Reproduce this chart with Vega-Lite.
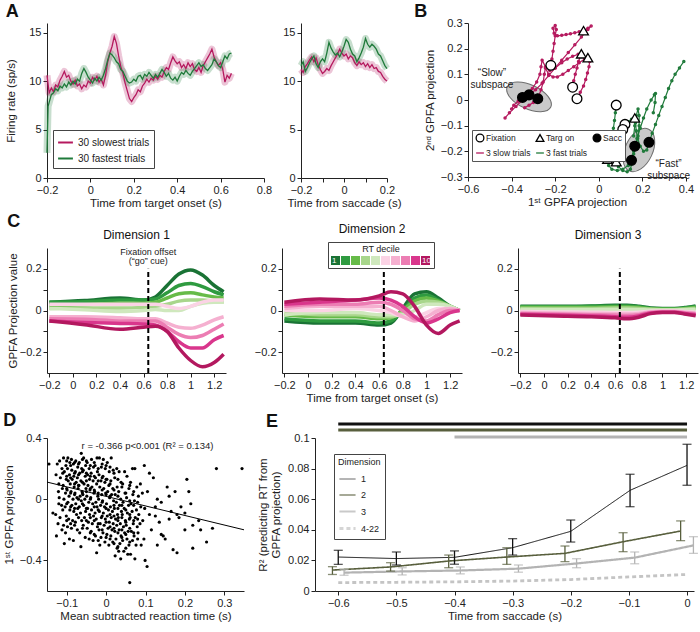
{
"$schema":"https://vega.github.io/schema/vega-lite/v6.json",
"padding":{"left":3,"top":3,"right":2,"bottom":2},
"background":"white",
"config":{
 "font":"Liberation Sans",
 "view":{"stroke":null},
 "axis":{"grid":false,"domainColor":"#222","tickColor":"#222","labelColor":"#222","titleColor":"#222","labelFontSize":11,"titleFontSize":11.5,"titleFontWeight":"normal","tickSize":4,"labelPadding":2,"labelFlush":false,"labelOverlap":false,"labelFont":"Liberation Sans","titleFont":"Liberation Sans"},
 "axisX":{"titlePadding":2},
 "axisY":{"titlePadding":5},
 "title":{"fontSize":18,"fontWeight":"bold","anchor":"start","frame":"bounds","offset":2,"color":"#111","font":"Liberation Sans"},
 "legend":{"labelFont":"Liberation Sans","titleFont":"Liberation Sans","labelColor":"#222","titleColor":"#222"},
 "text":{"font":"Liberation Sans"}
},
"datasets":{
"a1":[
{"t":-0.2,"r":10.6,"g":"slow"},{"t":-0.19,"r":8.8,"g":"slow"},{"t":-0.18,"r":9.3,"g":"slow"},{"t":-0.17,"r":8.9,"g":"slow"},{"t":-0.16,"r":9.6,"g":"slow"},{"t":-0.15,"r":9.4,"g":"slow"},{"t":-0.14,"r":10.1,"g":"slow"},{"t":-0.13,"r":10.5,"g":"slow"},{"t":-0.12,"r":11.0,"g":"slow"},{"t":-0.11,"r":10.4,"g":"slow"},{"t":-0.1,"r":10.6,"g":"slow"},{"t":-0.09,"r":10.0,"g":"slow"},{"t":-0.08,"r":9.7,"g":"slow"},{"t":-0.07,"r":10.1,"g":"slow"},{"t":-0.06,"r":9.5,"g":"slow"},{"t":-0.05,"r":9.7,"g":"slow"},{"t":-0.04,"r":9.2,"g":"slow"},{"t":-0.03,"r":9.6,"g":"slow"},{"t":-0.02,"r":9.4,"g":"slow"},{"t":-0.01,"r":10.0,"g":"slow"},{"t":0,"r":9.8,"g":"slow"},{"t":0.01,"r":10.4,"g":"slow"},{"t":0.02,"r":10.1,"g":"slow"},{"t":0.03,"r":10.5,"g":"slow"},{"t":0.04,"r":9.9,"g":"slow"},{"t":0.05,"r":10.2,"g":"slow"},{"t":0.06,"r":9.6,"g":"slow"},{"t":0.07,"r":10.6,"g":"slow"},{"t":0.08,"r":12.0,"g":"slow"},{"t":0.09,"r":12.9,"g":"slow"},{"t":0.1,"r":13.6,"g":"slow"},{"t":0.11,"r":14.6,"g":"slow"},{"t":0.12,"r":13.9,"g":"slow"},{"t":0.13,"r":12.6,"g":"slow"},{"t":0.14,"r":11.5,"g":"slow"},{"t":0.15,"r":10.8,"g":"slow"},{"t":0.16,"r":9.8,"g":"slow"},{"t":0.17,"r":9.0,"g":"slow"},{"t":0.18,"r":8.2,"g":"slow"},{"t":0.19,"r":7.9,"g":"slow"},{"t":0.2,"r":8.3,"g":"slow"},{"t":0.21,"r":8.6,"g":"slow"},{"t":0.22,"r":9.1,"g":"slow"},{"t":0.23,"r":8.9,"g":"slow"},{"t":0.24,"r":9.5,"g":"slow"},{"t":0.25,"r":9.8,"g":"slow"},{"t":0.26,"r":10.2,"g":"slow"},{"t":0.27,"r":9.9,"g":"slow"},{"t":0.28,"r":10.3,"g":"slow"},{"t":0.29,"r":10.1,"g":"slow"},{"t":0.3,"r":10.5,"g":"slow"},{"t":0.31,"r":10.2,"g":"slow"},{"t":0.32,"r":10.6,"g":"slow"},{"t":0.33,"r":10.4,"g":"slow"},{"t":0.34,"r":11.0,"g":"slow"},{"t":0.35,"r":11.4,"g":"slow"},{"t":0.36,"r":11.2,"g":"slow"},{"t":0.37,"r":11.9,"g":"slow"},{"t":0.38,"r":12.5,"g":"slow"},{"t":0.39,"r":12.1,"g":"slow"},{"t":0.4,"r":11.8,"g":"slow"},{"t":0.41,"r":12.0,"g":"slow"},{"t":0.42,"r":11.4,"g":"slow"},{"t":0.43,"r":11.7,"g":"slow"},{"t":0.44,"r":11.3,"g":"slow"},{"t":0.45,"r":11.9,"g":"slow"},{"t":0.46,"r":11.5,"g":"slow"},{"t":0.47,"r":11.8,"g":"slow"},{"t":0.48,"r":11.2,"g":"slow"},{"t":0.49,"r":11.0,"g":"slow"},{"t":0.5,"r":11.4,"g":"slow"},{"t":0.51,"r":10.9,"g":"slow"},{"t":0.52,"r":11.6,"g":"slow"},{"t":0.53,"r":12.0,"g":"slow"},{"t":0.54,"r":12.4,"g":"slow"},{"t":0.55,"r":12.8,"g":"slow"},{"t":0.56,"r":13.3,"g":"slow"},{"t":0.57,"r":12.5,"g":"slow"},{"t":0.58,"r":12.0,"g":"slow"},{"t":0.59,"r":11.6,"g":"slow"},{"t":0.6,"r":11.9,"g":"slow"},{"t":0.61,"r":11.2,"g":"slow"},{"t":0.62,"r":9.9,"g":"slow"},{"t":0.63,"r":10.6,"g":"slow"},{"t":0.64,"r":10.3,"g":"slow"},{"t":0.65,"r":10.8,"g":"slow"},
{"t":-0.2,"r":2.6,"g":"fast"},{"t":-0.195,"r":7.4,"g":"fast"},{"t":-0.19,"r":7.8,"g":"fast"},{"t":-0.18,"r":8.6,"g":"fast"},{"t":-0.17,"r":8.8,"g":"fast"},{"t":-0.16,"r":9.2,"g":"fast"},{"t":-0.15,"r":9.0,"g":"fast"},{"t":-0.14,"r":9.5,"g":"fast"},{"t":-0.13,"r":9.3,"g":"fast"},{"t":-0.12,"r":9.7,"g":"fast"},{"t":-0.11,"r":9.4,"g":"fast"},{"t":-0.1,"r":9.9,"g":"fast"},{"t":-0.09,"r":9.6,"g":"fast"},{"t":-0.08,"r":10.0,"g":"fast"},{"t":-0.07,"r":9.7,"g":"fast"},{"t":-0.06,"r":10.2,"g":"fast"},{"t":-0.05,"r":10.0,"g":"fast"},{"t":-0.04,"r":10.8,"g":"fast"},{"t":-0.03,"r":11.3,"g":"fast"},{"t":-0.02,"r":10.9,"g":"fast"},{"t":-0.01,"r":10.4,"g":"fast"},{"t":0,"r":10.1,"g":"fast"},{"t":0.01,"r":9.8,"g":"fast"},{"t":0.02,"r":10.3,"g":"fast"},{"t":0.03,"r":10.0,"g":"fast"},{"t":0.04,"r":10.4,"g":"fast"},{"t":0.05,"r":10.1,"g":"fast"},{"t":0.06,"r":10.6,"g":"fast"},{"t":0.07,"r":11.3,"g":"fast"},{"t":0.08,"r":12.2,"g":"fast"},{"t":0.09,"r":12.9,"g":"fast"},{"t":0.1,"r":12.7,"g":"fast"},{"t":0.11,"r":12.4,"g":"fast"},{"t":0.12,"r":12.0,"g":"fast"},{"t":0.13,"r":11.8,"g":"fast"},{"t":0.14,"r":11.2,"g":"fast"},{"t":0.15,"r":11.0,"g":"fast"},{"t":0.16,"r":10.5,"g":"fast"},{"t":0.17,"r":10.0,"g":"fast"},{"t":0.18,"r":9.8,"g":"fast"},{"t":0.19,"r":9.9,"g":"fast"},{"t":0.2,"r":10.2,"g":"fast"},{"t":0.21,"r":10.0,"g":"fast"},{"t":0.22,"r":10.5,"g":"fast"},{"t":0.23,"r":10.6,"g":"fast"},{"t":0.24,"r":10.2,"g":"fast"},{"t":0.25,"r":10.7,"g":"fast"},{"t":0.26,"r":10.5,"g":"fast"},{"t":0.27,"r":10.9,"g":"fast"},{"t":0.28,"r":10.6,"g":"fast"},{"t":0.29,"r":10.3,"g":"fast"},{"t":0.3,"r":10.7,"g":"fast"},{"t":0.31,"r":10.4,"g":"fast"},{"t":0.32,"r":10.8,"g":"fast"},{"t":0.33,"r":11.2,"g":"fast"},{"t":0.34,"r":10.9,"g":"fast"},{"t":0.35,"r":10.5,"g":"fast"},{"t":0.36,"r":10.8,"g":"fast"},{"t":0.37,"r":10.3,"g":"fast"},{"t":0.38,"r":10.1,"g":"fast"},{"t":0.39,"r":10.4,"g":"fast"},{"t":0.4,"r":10.0,"g":"fast"},{"t":0.41,"r":10.5,"g":"fast"},{"t":0.42,"r":10.9,"g":"fast"},{"t":0.43,"r":10.7,"g":"fast"},{"t":0.44,"r":11.1,"g":"fast"},{"t":0.45,"r":10.8,"g":"fast"},{"t":0.46,"r":10.6,"g":"fast"},{"t":0.47,"r":11.0,"g":"fast"},{"t":0.48,"r":11.3,"g":"fast"},{"t":0.49,"r":11.6,"g":"fast"},{"t":0.5,"r":11.9,"g":"fast"},{"t":0.51,"r":11.5,"g":"fast"},{"t":0.52,"r":11.7,"g":"fast"},{"t":0.53,"r":11.3,"g":"fast"},{"t":0.54,"r":11.1,"g":"fast"},{"t":0.55,"r":11.4,"g":"fast"},{"t":0.56,"r":11.7,"g":"fast"},{"t":0.57,"r":12.3,"g":"fast"},{"t":0.58,"r":12.0,"g":"fast"},{"t":0.59,"r":11.6,"g":"fast"},{"t":0.6,"r":11.4,"g":"fast"},{"t":0.61,"r":12.0,"g":"fast"},{"t":0.62,"r":12.6,"g":"fast"},{"t":0.63,"r":12.3,"g":"fast"},{"t":0.64,"r":12.8,"g":"fast"},{"t":0.65,"r":12.9,"g":"fast"}
],
"a2":[
{"t":-0.2,"r":11.2,"g":"slow"},{"t":-0.19,"r":10.9,"g":"slow"},{"t":-0.18,"r":11.5,"g":"slow"},{"t":-0.17,"r":11.8,"g":"slow"},{"t":-0.16,"r":12.2,"g":"slow"},{"t":-0.15,"r":12.5,"g":"slow"},{"t":-0.14,"r":12.0,"g":"slow"},{"t":-0.13,"r":12.4,"g":"slow"},{"t":-0.12,"r":11.7,"g":"slow"},{"t":-0.11,"r":11.2,"g":"slow"},{"t":-0.1,"r":10.8,"g":"slow"},{"t":-0.09,"r":11.0,"g":"slow"},{"t":-0.08,"r":11.3,"g":"slow"},{"t":-0.07,"r":11.1,"g":"slow"},{"t":-0.06,"r":11.6,"g":"slow"},{"t":-0.05,"r":12.0,"g":"slow"},{"t":-0.04,"r":12.4,"g":"slow"},{"t":-0.03,"r":12.8,"g":"slow"},{"t":-0.02,"r":13.3,"g":"slow"},{"t":-0.01,"r":12.9,"g":"slow"},{"t":0,"r":12.6,"g":"slow"},{"t":0.01,"r":12.8,"g":"slow"},{"t":0.02,"r":12.3,"g":"slow"},{"t":0.03,"r":12.6,"g":"slow"},{"t":0.04,"r":12.4,"g":"slow"},{"t":0.05,"r":11.9,"g":"slow"},{"t":0.06,"r":11.6,"g":"slow"},{"t":0.07,"r":12.0,"g":"slow"},{"t":0.08,"r":11.7,"g":"slow"},{"t":0.09,"r":11.9,"g":"slow"},{"t":0.1,"r":11.5,"g":"slow"},{"t":0.11,"r":11.8,"g":"slow"},{"t":0.12,"r":11.4,"g":"slow"},{"t":0.13,"r":11.7,"g":"slow"},{"t":0.14,"r":11.3,"g":"slow"},{"t":0.15,"r":11.4,"g":"slow"},{"t":0.16,"r":11.0,"g":"slow"},{"t":0.17,"r":10.9,"g":"slow"},{"t":0.18,"r":10.5,"g":"slow"},{"t":0.19,"r":10.2,"g":"slow"},{"t":0.2,"r":10.0,"g":"slow"},
{"t":-0.2,"r":11.6,"g":"fast"},{"t":-0.19,"r":12.0,"g":"fast"},{"t":-0.18,"r":11.0,"g":"fast"},{"t":-0.17,"r":11.4,"g":"fast"},{"t":-0.16,"r":11.9,"g":"fast"},{"t":-0.15,"r":12.3,"g":"fast"},{"t":-0.14,"r":12.6,"g":"fast"},{"t":-0.13,"r":11.8,"g":"fast"},{"t":-0.12,"r":11.4,"g":"fast"},{"t":-0.11,"r":12.0,"g":"fast"},{"t":-0.1,"r":12.3,"g":"fast"},{"t":-0.09,"r":12.0,"g":"fast"},{"t":-0.08,"r":12.9,"g":"fast"},{"t":-0.07,"r":14.0,"g":"fast"},{"t":-0.06,"r":13.4,"g":"fast"},{"t":-0.05,"r":13.0,"g":"fast"},{"t":-0.04,"r":12.7,"g":"fast"},{"t":-0.03,"r":12.9,"g":"fast"},{"t":-0.02,"r":12.5,"g":"fast"},{"t":-0.01,"r":13.0,"g":"fast"},{"t":0,"r":13.6,"g":"fast"},{"t":0.01,"r":14.3,"g":"fast"},{"t":0.02,"r":14.0,"g":"fast"},{"t":0.03,"r":13.3,"g":"fast"},{"t":0.04,"r":12.8,"g":"fast"},{"t":0.05,"r":12.6,"g":"fast"},{"t":0.06,"r":12.0,"g":"fast"},{"t":0.07,"r":12.4,"g":"fast"},{"t":0.08,"r":12.9,"g":"fast"},{"t":0.09,"r":13.5,"g":"fast"},{"t":0.1,"r":14.4,"g":"fast"},{"t":0.11,"r":13.8,"g":"fast"},{"t":0.12,"r":13.5,"g":"fast"},{"t":0.13,"r":13.8,"g":"fast"},{"t":0.14,"r":13.6,"g":"fast"},{"t":0.15,"r":13.3,"g":"fast"},{"t":0.16,"r":12.8,"g":"fast"},{"t":0.17,"r":12.6,"g":"fast"},{"t":0.18,"r":12.1,"g":"fast"},{"t":0.19,"r":11.6,"g":"fast"},{"t":0.2,"r":11.3,"g":"fast"}
],
"bell":[{"sub":"slow","x":-0.32,"y":0.012},{"sub":"fast","x":0.184,"y":-0.195}],
"btraj":[
{"tr":"s1","key":"3 slow trials","i":0,"x":-0.22,"y":0.135},{"tr":"s1","key":"3 slow trials","i":1,"x":-0.215,"y":0.16},{"tr":"s1","key":"3 slow trials","i":2,"x":-0.21,"y":0.19},{"tr":"s1","key":"3 slow trials","i":3,"x":-0.205,"y":0.22},{"tr":"s1","key":"3 slow trials","i":4,"x":-0.2,"y":0.25},{"tr":"s1","key":"3 slow trials","i":5,"x":-0.195,"y":0.275},{"tr":"s1","key":"3 slow trials","i":6,"x":-0.2,"y":0.29},{"tr":"s1","key":"3 slow trials","i":7,"x":-0.21,"y":0.28},{"tr":"s1","key":"3 slow trials","i":8,"x":-0.205,"y":0.26},{"tr":"s1","key":"3 slow trials","i":9,"x":-0.19,"y":0.25},{"tr":"s1","key":"3 slow trials","i":10,"x":-0.17,"y":0.252},{"tr":"s1","key":"3 slow trials","i":11,"x":-0.15,"y":0.255},{"tr":"s1","key":"3 slow trials","i":12,"x":-0.13,"y":0.258},{"tr":"s1","key":"3 slow trials","i":13,"x":-0.11,"y":0.262},{"tr":"s1","key":"3 slow trials","i":14,"x":-0.09,"y":0.266},{"tr":"s1","key":"3 slow trials","i":15,"x":-0.07,"y":0.27},{"tr":"s1","key":"3 slow trials","i":16,"x":-0.05,"y":0.28},{"tr":"s1","key":"3 slow trials","i":17,"x":-0.035,"y":0.288},{"tr":"s1","key":"3 slow trials","i":18,"x":-0.05,"y":0.275},{"tr":"s1","key":"3 slow trials","i":19,"x":-0.08,"y":0.245},{"tr":"s1","key":"3 slow trials","i":20,"x":-0.11,"y":0.215},{"tr":"s1","key":"3 slow trials","i":21,"x":-0.14,"y":0.185},{"tr":"s1","key":"3 slow trials","i":22,"x":-0.17,"y":0.155},{"tr":"s1","key":"3 slow trials","i":23,"x":-0.2,"y":0.125},{"tr":"s1","key":"3 slow trials","i":24,"x":-0.23,"y":0.095},{"tr":"s1","key":"3 slow trials","i":25,"x":-0.26,"y":0.065},{"tr":"s1","key":"3 slow trials","i":26,"x":-0.29,"y":0.04},{"tr":"s1","key":"3 slow trials","i":27,"x":-0.32,"y":0.02},{"tr":"s1","key":"3 slow trials","i":28,"x":-0.35,"y":0.0},{"tr":"s1","key":"3 slow trials","i":29,"x":-0.38,"y":-0.025},{"tr":"s1","key":"3 slow trials","i":30,"x":-0.41,"y":-0.05},{"tr":"s1","key":"3 slow trials","i":31,"x":-0.43,"y":-0.07},
{"tr":"s2","key":"3 slow trials","i":0,"x":-0.12,"y":0.05},{"tr":"s2","key":"3 slow trials","i":1,"x":-0.115,"y":0.075},{"tr":"s2","key":"3 slow trials","i":2,"x":-0.108,"y":0.1},{"tr":"s2","key":"3 slow trials","i":3,"x":-0.1,"y":0.125},{"tr":"s2","key":"3 slow trials","i":4,"x":-0.093,"y":0.15},{"tr":"s2","key":"3 slow trials","i":5,"x":-0.085,"y":0.17},{"tr":"s2","key":"3 slow trials","i":6,"x":-0.08,"y":0.18},{"tr":"s2","key":"3 slow trials","i":7,"x":-0.095,"y":0.178},{"tr":"s2","key":"3 slow trials","i":8,"x":-0.12,"y":0.17},{"tr":"s2","key":"3 slow trials","i":9,"x":-0.145,"y":0.16},{"tr":"s2","key":"3 slow trials","i":10,"x":-0.17,"y":0.145},{"tr":"s2","key":"3 slow trials","i":11,"x":-0.2,"y":0.125},{"tr":"s2","key":"3 slow trials","i":12,"x":-0.225,"y":0.115},{"tr":"s2","key":"3 slow trials","i":13,"x":-0.245,"y":0.13},{"tr":"s2","key":"3 slow trials","i":14,"x":-0.26,"y":0.155},{"tr":"s2","key":"3 slow trials","i":15,"x":-0.265,"y":0.13},{"tr":"s2","key":"3 slow trials","i":16,"x":-0.27,"y":0.1},{"tr":"s2","key":"3 slow trials","i":17,"x":-0.285,"y":0.07},{"tr":"s2","key":"3 slow trials","i":18,"x":-0.305,"y":0.045},{"tr":"s2","key":"3 slow trials","i":19,"x":-0.33,"y":0.025},{"tr":"s2","key":"3 slow trials","i":20,"x":-0.35,"y":0.01},{"tr":"s2","key":"3 slow trials","i":21,"x":-0.37,"y":-0.005},{"tr":"s2","key":"3 slow trials","i":22,"x":-0.39,"y":-0.02},{"tr":"s2","key":"3 slow trials","i":23,"x":-0.4,"y":-0.035},
{"tr":"s3","key":"3 slow trials","i":0,"x":-0.1,"y":0.005},{"tr":"s3","key":"3 slow trials","i":1,"x":-0.085,"y":0.03},{"tr":"s3","key":"3 slow trials","i":2,"x":-0.07,"y":0.055},{"tr":"s3","key":"3 slow trials","i":3,"x":-0.06,"y":0.08},{"tr":"s3","key":"3 slow trials","i":4,"x":-0.052,"y":0.105},{"tr":"s3","key":"3 slow trials","i":5,"x":-0.045,"y":0.13},{"tr":"s3","key":"3 slow trials","i":6,"x":-0.042,"y":0.15},{"tr":"s3","key":"3 slow trials","i":7,"x":-0.05,"y":0.165},{"tr":"s3","key":"3 slow trials","i":8,"x":-0.065,"y":0.16},{"tr":"s3","key":"3 slow trials","i":9,"x":-0.09,"y":0.145},{"tr":"s3","key":"3 slow trials","i":10,"x":-0.115,"y":0.13},{"tr":"s3","key":"3 slow trials","i":11,"x":-0.14,"y":0.115},{"tr":"s3","key":"3 slow trials","i":12,"x":-0.165,"y":0.1},{"tr":"s3","key":"3 slow trials","i":13,"x":-0.19,"y":0.09},{"tr":"s3","key":"3 slow trials","i":14,"x":-0.21,"y":0.09},{"tr":"s3","key":"3 slow trials","i":15,"x":-0.23,"y":0.1},{"tr":"s3","key":"3 slow trials","i":16,"x":-0.245,"y":0.125},{"tr":"s3","key":"3 slow trials","i":17,"x":-0.25,"y":0.1},{"tr":"s3","key":"3 slow trials","i":18,"x":-0.255,"y":0.07},{"tr":"s3","key":"3 slow trials","i":19,"x":-0.265,"y":0.04},{"tr":"s3","key":"3 slow trials","i":20,"x":-0.28,"y":0.005},{"tr":"s3","key":"3 slow trials","i":21,"x":-0.3,"y":-0.01},{"tr":"s3","key":"3 slow trials","i":22,"x":-0.32,"y":-0.02},{"tr":"s3","key":"3 slow trials","i":23,"x":-0.34,"y":-0.03},
{"tr":"f1","key":"3 fast trials","i":0,"x":0.08,"y":-0.02},{"tr":"f1","key":"3 fast trials","i":1,"x":0.076,"y":-0.05},{"tr":"f1","key":"3 fast trials","i":2,"x":0.072,"y":-0.08},{"tr":"f1","key":"3 fast trials","i":3,"x":0.067,"y":-0.11},{"tr":"f1","key":"3 fast trials","i":4,"x":0.062,"y":-0.14},{"tr":"f1","key":"3 fast trials","i":5,"x":0.056,"y":-0.17},{"tr":"f1","key":"3 fast trials","i":6,"x":0.05,"y":-0.2},{"tr":"f1","key":"3 fast trials","i":7,"x":0.04,"y":-0.23},{"tr":"f1","key":"3 fast trials","i":8,"x":0.045,"y":-0.255},{"tr":"f1","key":"3 fast trials","i":9,"x":0.06,"y":-0.27},{"tr":"f1","key":"3 fast trials","i":10,"x":0.085,"y":-0.275},{"tr":"f1","key":"3 fast trials","i":11,"x":0.11,"y":-0.27},{"tr":"f1","key":"3 fast trials","i":12,"x":0.135,"y":-0.255},{"tr":"f1","key":"3 fast trials","i":13,"x":0.15,"y":-0.23},{"tr":"f1","key":"3 fast trials","i":14,"x":0.16,"y":-0.2},{"tr":"f1","key":"3 fast trials","i":15,"x":0.165,"y":-0.18},{"tr":"f1","key":"3 fast trials","i":16,"x":0.175,"y":-0.15},{"tr":"f1","key":"3 fast trials","i":17,"x":0.19,"y":-0.11},{"tr":"f1","key":"3 fast trials","i":18,"x":0.205,"y":-0.07},{"tr":"f1","key":"3 fast trials","i":19,"x":0.22,"y":-0.035},{"tr":"f1","key":"3 fast trials","i":20,"x":0.24,"y":0.0},{"tr":"f1","key":"3 fast trials","i":21,"x":0.255,"y":0.02},{"tr":"f1","key":"3 fast trials","i":22,"x":0.26,"y":0.025},{"tr":"f1","key":"3 fast trials","i":23,"x":0.258,"y":-0.01},{"tr":"f1","key":"3 fast trials","i":24,"x":0.25,"y":-0.05},
{"tr":"f2","key":"3 fast trials","i":0,"x":0.12,"y":-0.095},{"tr":"f2","key":"3 fast trials","i":1,"x":0.117,"y":-0.12},{"tr":"f2","key":"3 fast trials","i":2,"x":0.112,"y":-0.15},{"tr":"f2","key":"3 fast trials","i":3,"x":0.105,"y":-0.18},{"tr":"f2","key":"3 fast trials","i":4,"x":0.097,"y":-0.2},{"tr":"f2","key":"3 fast trials","i":5,"x":0.088,"y":-0.22},{"tr":"f2","key":"3 fast trials","i":6,"x":0.08,"y":-0.24},{"tr":"f2","key":"3 fast trials","i":7,"x":0.09,"y":-0.26},{"tr":"f2","key":"3 fast trials","i":8,"x":0.11,"y":-0.275},{"tr":"f2","key":"3 fast trials","i":9,"x":0.13,"y":-0.28},{"tr":"f2","key":"3 fast trials","i":10,"x":0.145,"y":-0.27},{"tr":"f2","key":"3 fast trials","i":11,"x":0.15,"y":-0.25},{"tr":"f2","key":"3 fast trials","i":12,"x":0.15,"y":-0.235},{"tr":"f2","key":"3 fast trials","i":13,"x":0.16,"y":-0.21},{"tr":"f2","key":"3 fast trials","i":14,"x":0.17,"y":-0.18},{"tr":"f2","key":"3 fast trials","i":15,"x":0.18,"y":-0.14},{"tr":"f2","key":"3 fast trials","i":16,"x":0.185,"y":-0.1},{"tr":"f2","key":"3 fast trials","i":17,"x":0.185,"y":-0.06},{"tr":"f2","key":"3 fast trials","i":18,"x":0.18,"y":-0.035},{"tr":"f2","key":"3 fast trials","i":19,"x":0.172,"y":-0.06},{"tr":"f2","key":"3 fast trials","i":20,"x":0.165,"y":-0.1},{"tr":"f2","key":"3 fast trials","i":21,"x":0.16,"y":-0.14},
{"tr":"f3","key":"3 fast trials","i":0,"x":0.11,"y":-0.115},{"tr":"f3","key":"3 fast trials","i":1,"x":0.12,"y":-0.1},{"tr":"f3","key":"3 fast trials","i":2,"x":0.135,"y":-0.085},{"tr":"f3","key":"3 fast trials","i":3,"x":0.15,"y":-0.075},{"tr":"f3","key":"3 fast trials","i":4,"x":0.165,"y":-0.07},{"tr":"f3","key":"3 fast trials","i":5,"x":0.168,"y":-0.09},{"tr":"f3","key":"3 fast trials","i":6,"x":0.172,"y":-0.12},{"tr":"f3","key":"3 fast trials","i":7,"x":0.178,"y":-0.15},{"tr":"f3","key":"3 fast trials","i":8,"x":0.19,"y":-0.18},{"tr":"f3","key":"3 fast trials","i":9,"x":0.205,"y":-0.2},{"tr":"f3","key":"3 fast trials","i":10,"x":0.22,"y":-0.195},{"tr":"f3","key":"3 fast trials","i":11,"x":0.23,"y":-0.165},{"tr":"f3","key":"3 fast trials","i":12,"x":0.245,"y":-0.13},{"tr":"f3","key":"3 fast trials","i":13,"x":0.26,"y":-0.095},{"tr":"f3","key":"3 fast trials","i":14,"x":0.275,"y":-0.06},{"tr":"f3","key":"3 fast trials","i":15,"x":0.29,"y":-0.025},{"tr":"f3","key":"3 fast trials","i":16,"x":0.305,"y":0.01},{"tr":"f3","key":"3 fast trials","i":17,"x":0.32,"y":0.045},{"tr":"f3","key":"3 fast trials","i":18,"x":0.335,"y":0.075},{"tr":"f3","key":"3 fast trials","i":19,"x":0.35,"y":0.1},{"tr":"f3","key":"3 fast trials","i":20,"x":0.37,"y":0.125},{"tr":"f3","key":"3 fast trials","i":21,"x":0.39,"y":0.15}
],
"bmark":[
{"key":"Fixation","x":-0.22,"y":0.135},{"key":"Fixation","x":-0.12,"y":0.05},{"key":"Fixation","x":-0.1,"y":0.005},{"key":"Fixation","x":0.08,"y":-0.02},{"key":"Fixation","x":0.12,"y":-0.095},{"key":"Fixation","x":0.11,"y":-0.115},
{"key":"Targ on","x":-0.07,"y":0.27},{"key":"Targ on","x":-0.08,"y":0.18},{"key":"Targ on","x":-0.05,"y":0.165},{"key":"Targ on","x":0.165,"y":-0.07},{"key":"Targ on","x":0.04,"y":-0.23},{"key":"Targ on","x":0.08,"y":-0.24},
{"key":"Sacc","x":-0.35,"y":0.01},{"key":"Sacc","x":-0.32,"y":0.02},{"key":"Sacc","x":-0.28,"y":0.005},{"key":"Sacc","x":0.23,"y":-0.165},{"key":"Sacc","x":0.165,"y":-0.18},{"key":"Sacc","x":0.15,"y":-0.235}
],
"btext":[{"x":-0.49,"y":0.105,"label":"“Slow”\nsubspace"},{"x":0.32,"y":-0.25,"label":"“Fast”\nsubspace"}],
"c":[
{"p":1,"k":1,"t":-0.2,"v":0.04},{"p":1,"k":1,"t":0.1,"v":0.048},{"p":1,"k":1,"t":0.4,"v":0.06},{"p":1,"k":1,"t":0.6,"v":0.05},{"p":1,"k":1,"t":0.7,"v":0.065},{"p":1,"k":1,"t":0.8,"v":0.12},{"p":1,"k":1,"t":0.9,"v":0.175},{"p":1,"k":1,"t":1.0,"v":0.195},{"p":1,"k":1,"t":1.1,"v":0.17},{"p":1,"k":1,"t":1.2,"v":0.12},{"p":1,"k":1,"t":1.28,"v":0.09},
{"p":1,"k":2,"t":-0.2,"v":0.04},{"p":1,"k":2,"t":0.1,"v":0.042},{"p":1,"k":2,"t":0.4,"v":0.05},{"p":1,"k":2,"t":0.6,"v":0.05},{"p":1,"k":2,"t":0.7,"v":0.055},{"p":1,"k":2,"t":0.8,"v":0.085},{"p":1,"k":2,"t":0.9,"v":0.12},{"p":1,"k":2,"t":1.0,"v":0.13},{"p":1,"k":2,"t":1.1,"v":0.115},{"p":1,"k":2,"t":1.2,"v":0.09},{"p":1,"k":2,"t":1.28,"v":0.075},
{"p":1,"k":3,"t":-0.2,"v":0.022},{"p":1,"k":3,"t":0.1,"v":0.028},{"p":1,"k":3,"t":0.4,"v":0.035},{"p":1,"k":3,"t":0.6,"v":0.035},{"p":1,"k":3,"t":0.7,"v":0.04},{"p":1,"k":3,"t":0.8,"v":0.06},{"p":1,"k":3,"t":0.9,"v":0.08},{"p":1,"k":3,"t":1.0,"v":0.085},{"p":1,"k":3,"t":1.1,"v":0.075},{"p":1,"k":3,"t":1.2,"v":0.065},{"p":1,"k":3,"t":1.28,"v":0.06},
{"p":1,"k":4,"t":-0.2,"v":0.01},{"p":1,"k":4,"t":0.1,"v":0.012},{"p":1,"k":4,"t":0.4,"v":0.012},{"p":1,"k":4,"t":0.6,"v":0.015},{"p":1,"k":4,"t":0.7,"v":0.02},{"p":1,"k":4,"t":0.8,"v":0.03},{"p":1,"k":4,"t":0.9,"v":0.045},{"p":1,"k":4,"t":1.0,"v":0.05},{"p":1,"k":4,"t":1.1,"v":0.05},{"p":1,"k":4,"t":1.2,"v":0.045},{"p":1,"k":4,"t":1.28,"v":0.04},
{"p":1,"k":5,"t":-0.2,"v":0.01},{"p":1,"k":5,"t":0.1,"v":0.003},{"p":1,"k":5,"t":0.4,"v":-0.005},{"p":1,"k":5,"t":0.6,"v":0.0},{"p":1,"k":5,"t":0.7,"v":0.005},{"p":1,"k":5,"t":0.8,"v":0.0},{"p":1,"k":5,"t":0.9,"v":0.0},{"p":1,"k":5,"t":1.0,"v":0.02},{"p":1,"k":5,"t":1.1,"v":0.035},{"p":1,"k":5,"t":1.2,"v":0.04},{"p":1,"k":5,"t":1.28,"v":0.04},
{"p":1,"k":6,"t":-0.2,"v":0.03},{"p":1,"k":6,"t":0.1,"v":0.03},{"p":1,"k":6,"t":0.4,"v":0.03},{"p":1,"k":6,"t":0.6,"v":0.03},{"p":1,"k":6,"t":0.7,"v":0.03},{"p":1,"k":6,"t":0.8,"v":0.02},{"p":1,"k":6,"t":0.9,"v":0.01},{"p":1,"k":6,"t":1.0,"v":0.02},{"p":1,"k":6,"t":1.1,"v":0.04},{"p":1,"k":6,"t":1.2,"v":0.05},{"p":1,"k":6,"t":1.28,"v":0.05},
{"p":1,"k":7,"t":-0.2,"v":-0.03},{"p":1,"k":7,"t":0.1,"v":-0.03},{"p":1,"k":7,"t":0.4,"v":-0.035},{"p":1,"k":7,"t":0.6,"v":-0.04},{"p":1,"k":7,"t":0.7,"v":-0.04},{"p":1,"k":7,"t":0.8,"v":-0.06},{"p":1,"k":7,"t":0.9,"v":-0.08},{"p":1,"k":7,"t":1.0,"v":-0.085},{"p":1,"k":7,"t":1.1,"v":-0.07},{"p":1,"k":7,"t":1.2,"v":-0.045},{"p":1,"k":7,"t":1.28,"v":-0.03},
{"p":1,"k":8,"t":-0.2,"v":-0.04},{"p":1,"k":8,"t":0.1,"v":-0.042},{"p":1,"k":8,"t":0.4,"v":-0.05},{"p":1,"k":8,"t":0.6,"v":-0.05},{"p":1,"k":8,"t":0.7,"v":-0.05},{"p":1,"k":8,"t":0.8,"v":-0.08},{"p":1,"k":8,"t":0.9,"v":-0.115},{"p":1,"k":8,"t":1.0,"v":-0.13},{"p":1,"k":8,"t":1.1,"v":-0.12},{"p":1,"k":8,"t":1.2,"v":-0.09},{"p":1,"k":8,"t":1.28,"v":-0.065},
{"p":1,"k":9,"t":-0.2,"v":-0.05},{"p":1,"k":9,"t":0.1,"v":-0.057},{"p":1,"k":9,"t":0.4,"v":-0.062},{"p":1,"k":9,"t":0.6,"v":-0.065},{"p":1,"k":9,"t":0.7,"v":-0.07},{"p":1,"k":9,"t":0.8,"v":-0.1},{"p":1,"k":9,"t":0.9,"v":-0.15},{"p":1,"k":9,"t":1.0,"v":-0.18},{"p":1,"k":9,"t":1.1,"v":-0.18},{"p":1,"k":9,"t":1.2,"v":-0.14},{"p":1,"k":9,"t":1.28,"v":-0.12},
{"p":1,"k":10,"t":-0.2,"v":-0.05},{"p":1,"k":10,"t":0.1,"v":-0.068},{"p":1,"k":10,"t":0.4,"v":-0.09},{"p":1,"k":10,"t":0.6,"v":-0.08},{"p":1,"k":10,"t":0.7,"v":-0.075},{"p":1,"k":10,"t":0.8,"v":-0.1},{"p":1,"k":10,"t":0.9,"v":-0.18},{"p":1,"k":10,"t":1.0,"v":-0.24},{"p":1,"k":10,"t":1.1,"v":-0.27},{"p":1,"k":10,"t":1.2,"v":-0.25},{"p":1,"k":10,"t":1.28,"v":-0.21},
{"p":2,"k":1,"t":-0.2,"v":-0.05},{"p":2,"k":1,"t":0.1,"v":-0.06},{"p":2,"k":1,"t":0.4,"v":-0.06},{"p":2,"k":1,"t":0.6,"v":-0.07},{"p":2,"k":1,"t":0.7,"v":-0.06},{"p":2,"k":1,"t":0.8,"v":0.01},{"p":2,"k":1,"t":0.9,"v":0.08},{"p":2,"k":1,"t":1.0,"v":0.09},{"p":2,"k":1,"t":1.1,"v":0.06},{"p":2,"k":1,"t":1.2,"v":0.02},{"p":2,"k":1,"t":1.28,"v":0.0},
{"p":2,"k":2,"t":-0.2,"v":-0.04},{"p":2,"k":2,"t":0.1,"v":-0.05},{"p":2,"k":2,"t":0.4,"v":-0.05},{"p":2,"k":2,"t":0.6,"v":-0.06},{"p":2,"k":2,"t":0.7,"v":-0.05},{"p":2,"k":2,"t":0.8,"v":0.0},{"p":2,"k":2,"t":0.9,"v":0.06},{"p":2,"k":2,"t":1.0,"v":0.075},{"p":2,"k":2,"t":1.1,"v":0.05},{"p":2,"k":2,"t":1.2,"v":0.02},{"p":2,"k":2,"t":1.28,"v":0.0},
{"p":2,"k":3,"t":-0.2,"v":-0.02},{"p":2,"k":3,"t":0.1,"v":-0.03},{"p":2,"k":3,"t":0.4,"v":-0.03},{"p":2,"k":3,"t":0.6,"v":-0.04},{"p":2,"k":3,"t":0.7,"v":-0.035},{"p":2,"k":3,"t":0.8,"v":0.0},{"p":2,"k":3,"t":0.9,"v":0.045},{"p":2,"k":3,"t":1.0,"v":0.06},{"p":2,"k":3,"t":1.1,"v":0.045},{"p":2,"k":3,"t":1.2,"v":0.02},{"p":2,"k":3,"t":1.28,"v":0.0},
{"p":2,"k":4,"t":-0.2,"v":-0.01},{"p":2,"k":4,"t":0.1,"v":-0.02},{"p":2,"k":4,"t":0.4,"v":-0.02},{"p":2,"k":4,"t":0.6,"v":-0.03},{"p":2,"k":4,"t":0.7,"v":-0.03},{"p":2,"k":4,"t":0.8,"v":-0.01},{"p":2,"k":4,"t":0.9,"v":0.03},{"p":2,"k":4,"t":1.0,"v":0.045},{"p":2,"k":4,"t":1.1,"v":0.04},{"p":2,"k":4,"t":1.2,"v":0.02},{"p":2,"k":4,"t":1.28,"v":0.0},
{"p":2,"k":5,"t":-0.2,"v":-0.02},{"p":2,"k":5,"t":0.1,"v":-0.01},{"p":2,"k":5,"t":0.4,"v":-0.01},{"p":2,"k":5,"t":0.6,"v":-0.02},{"p":2,"k":5,"t":0.7,"v":-0.02},{"p":2,"k":5,"t":0.8,"v":-0.02},{"p":2,"k":5,"t":0.9,"v":0.0},{"p":2,"k":5,"t":1.0,"v":0.03},{"p":2,"k":5,"t":1.1,"v":0.03},{"p":2,"k":5,"t":1.2,"v":0.02},{"p":2,"k":5,"t":1.28,"v":0.0},
{"p":2,"k":6,"t":-0.2,"v":0.0},{"p":2,"k":6,"t":0.1,"v":0.0},{"p":2,"k":6,"t":0.4,"v":0.01},{"p":2,"k":6,"t":0.6,"v":0.0},{"p":2,"k":6,"t":0.7,"v":-0.01},{"p":2,"k":6,"t":0.8,"v":-0.03},{"p":2,"k":6,"t":0.9,"v":-0.03},{"p":2,"k":6,"t":1.0,"v":-0.01},{"p":2,"k":6,"t":1.1,"v":0.01},{"p":2,"k":6,"t":1.2,"v":0.01},{"p":2,"k":6,"t":1.28,"v":0.0},
{"p":2,"k":7,"t":-0.2,"v":0.01},{"p":2,"k":7,"t":0.1,"v":0.02},{"p":2,"k":7,"t":0.4,"v":0.02},{"p":2,"k":7,"t":0.6,"v":0.02},{"p":2,"k":7,"t":0.7,"v":0.0},{"p":2,"k":7,"t":0.8,"v":-0.03},{"p":2,"k":7,"t":0.9,"v":-0.05},{"p":2,"k":7,"t":1.0,"v":-0.03},{"p":2,"k":7,"t":1.1,"v":0.0},{"p":2,"k":7,"t":1.2,"v":0.01},{"p":2,"k":7,"t":1.28,"v":0.0},
{"p":2,"k":8,"t":-0.2,"v":0.02},{"p":2,"k":8,"t":0.1,"v":0.03},{"p":2,"k":8,"t":0.4,"v":0.03},{"p":2,"k":8,"t":0.6,"v":0.04},{"p":2,"k":8,"t":0.7,"v":0.03},{"p":2,"k":8,"t":0.8,"v":0.0},{"p":2,"k":8,"t":0.9,"v":-0.04},{"p":2,"k":8,"t":1.0,"v":-0.05},{"p":2,"k":8,"t":1.1,"v":-0.02},{"p":2,"k":8,"t":1.2,"v":0.0},{"p":2,"k":8,"t":1.28,"v":0.0},
{"p":2,"k":9,"t":-0.2,"v":0.03},{"p":2,"k":9,"t":0.1,"v":0.04},{"p":2,"k":9,"t":0.4,"v":0.05},{"p":2,"k":9,"t":0.6,"v":0.06},{"p":2,"k":9,"t":0.7,"v":0.05},{"p":2,"k":9,"t":0.8,"v":0.02},{"p":2,"k":9,"t":0.9,"v":-0.03},{"p":2,"k":9,"t":1.0,"v":-0.06},{"p":2,"k":9,"t":1.1,"v":-0.04},{"p":2,"k":9,"t":1.2,"v":-0.01},{"p":2,"k":9,"t":1.28,"v":0.0},
{"p":2,"k":10,"t":-0.2,"v":0.04},{"p":2,"k":10,"t":0.1,"v":0.055},{"p":2,"k":10,"t":0.4,"v":0.05},{"p":2,"k":10,"t":0.6,"v":0.07},{"p":2,"k":10,"t":0.7,"v":0.09},{"p":2,"k":10,"t":0.8,"v":0.08},{"p":2,"k":10,"t":0.9,"v":0.02},{"p":2,"k":10,"t":1.0,"v":-0.07},{"p":2,"k":10,"t":1.1,"v":-0.11},{"p":2,"k":10,"t":1.2,"v":-0.07},{"p":2,"k":10,"t":1.28,"v":-0.05},
{"p":3,"k":1,"t":-0.2,"v":0.02},{"p":3,"k":1,"t":0.1,"v":0.02},{"p":3,"k":1,"t":0.4,"v":0.022},{"p":3,"k":1,"t":0.6,"v":0.025},{"p":3,"k":1,"t":0.7,"v":0.025},{"p":3,"k":1,"t":0.8,"v":0.02},{"p":3,"k":1,"t":0.9,"v":0.012},{"p":3,"k":1,"t":1.0,"v":0.01},{"p":3,"k":1,"t":1.1,"v":0.01},{"p":3,"k":1,"t":1.2,"v":0.015},{"p":3,"k":1,"t":1.28,"v":0.022},
{"p":3,"k":2,"t":-0.2,"v":0.018},{"p":3,"k":2,"t":0.1,"v":0.018},{"p":3,"k":2,"t":0.4,"v":0.02},{"p":3,"k":2,"t":0.6,"v":0.022},{"p":3,"k":2,"t":0.7,"v":0.022},{"p":3,"k":2,"t":0.8,"v":0.018},{"p":3,"k":2,"t":0.9,"v":0.01},{"p":3,"k":2,"t":1.0,"v":0.008},{"p":3,"k":2,"t":1.1,"v":0.008},{"p":3,"k":2,"t":1.2,"v":0.013},{"p":3,"k":2,"t":1.28,"v":0.018},
{"p":3,"k":3,"t":-0.2,"v":0.014},{"p":3,"k":3,"t":0.1,"v":0.014},{"p":3,"k":3,"t":0.4,"v":0.015},{"p":3,"k":3,"t":0.6,"v":0.017},{"p":3,"k":3,"t":0.7,"v":0.017},{"p":3,"k":3,"t":0.8,"v":0.014},{"p":3,"k":3,"t":0.9,"v":0.008},{"p":3,"k":3,"t":1.0,"v":0.006},{"p":3,"k":3,"t":1.1,"v":0.006},{"p":3,"k":3,"t":1.2,"v":0.01},{"p":3,"k":3,"t":1.28,"v":0.014},
{"p":3,"k":4,"t":-0.2,"v":0.01},{"p":3,"k":4,"t":0.1,"v":0.01},{"p":3,"k":4,"t":0.4,"v":0.01},{"p":3,"k":4,"t":0.6,"v":0.012},{"p":3,"k":4,"t":0.7,"v":0.012},{"p":3,"k":4,"t":0.8,"v":0.01},{"p":3,"k":4,"t":0.9,"v":0.006},{"p":3,"k":4,"t":1.0,"v":0.004},{"p":3,"k":4,"t":1.1,"v":0.004},{"p":3,"k":4,"t":1.2,"v":0.007},{"p":3,"k":4,"t":1.28,"v":0.01},
{"p":3,"k":5,"t":-0.2,"v":0.005},{"p":3,"k":5,"t":0.1,"v":0.004},{"p":3,"k":5,"t":0.4,"v":0.004},{"p":3,"k":5,"t":0.6,"v":0.005},{"p":3,"k":5,"t":0.7,"v":0.005},{"p":3,"k":5,"t":0.8,"v":0.004},{"p":3,"k":5,"t":0.9,"v":0.002},{"p":3,"k":5,"t":1.0,"v":0.002},{"p":3,"k":5,"t":1.1,"v":0.002},{"p":3,"k":5,"t":1.2,"v":0.004},{"p":3,"k":5,"t":1.28,"v":0.005},
{"p":3,"k":6,"t":-0.2,"v":-0.005},{"p":3,"k":6,"t":0.1,"v":-0.007},{"p":3,"k":6,"t":0.4,"v":-0.008},{"p":3,"k":6,"t":0.6,"v":-0.01},{"p":3,"k":6,"t":0.7,"v":-0.01},{"p":3,"k":6,"t":0.8,"v":-0.008},{"p":3,"k":6,"t":0.9,"v":-0.003},{"p":3,"k":6,"t":1.0,"v":-0.002},{"p":3,"k":6,"t":1.1,"v":-0.002},{"p":3,"k":6,"t":1.2,"v":-0.005},{"p":3,"k":6,"t":1.28,"v":-0.008},
{"p":3,"k":7,"t":-0.2,"v":-0.01},{"p":3,"k":7,"t":0.1,"v":-0.012},{"p":3,"k":7,"t":0.4,"v":-0.014},{"p":3,"k":7,"t":0.6,"v":-0.016},{"p":3,"k":7,"t":0.7,"v":-0.017},{"p":3,"k":7,"t":0.8,"v":-0.014},{"p":3,"k":7,"t":0.9,"v":-0.006},{"p":3,"k":7,"t":1.0,"v":-0.004},{"p":3,"k":7,"t":1.1,"v":-0.004},{"p":3,"k":7,"t":1.2,"v":-0.008},{"p":3,"k":7,"t":1.28,"v":-0.012},
{"p":3,"k":8,"t":-0.2,"v":-0.014},{"p":3,"k":8,"t":0.1,"v":-0.017},{"p":3,"k":8,"t":0.4,"v":-0.02},{"p":3,"k":8,"t":0.6,"v":-0.022},{"p":3,"k":8,"t":0.7,"v":-0.024},{"p":3,"k":8,"t":0.8,"v":-0.02},{"p":3,"k":8,"t":0.9,"v":-0.009},{"p":3,"k":8,"t":1.0,"v":-0.006},{"p":3,"k":8,"t":1.1,"v":-0.006},{"p":3,"k":8,"t":1.2,"v":-0.012},{"p":3,"k":8,"t":1.28,"v":-0.016},
{"p":3,"k":9,"t":-0.2,"v":-0.018},{"p":3,"k":9,"t":0.1,"v":-0.022},{"p":3,"k":9,"t":0.4,"v":-0.026},{"p":3,"k":9,"t":0.6,"v":-0.03},{"p":3,"k":9,"t":0.7,"v":-0.032},{"p":3,"k":9,"t":0.8,"v":-0.026},{"p":3,"k":9,"t":0.9,"v":-0.012},{"p":3,"k":9,"t":1.0,"v":-0.008},{"p":3,"k":9,"t":1.1,"v":-0.008},{"p":3,"k":9,"t":1.2,"v":-0.015},{"p":3,"k":9,"t":1.28,"v":-0.02},
{"p":3,"k":10,"t":-0.2,"v":-0.022},{"p":3,"k":10,"t":0.1,"v":-0.026},{"p":3,"k":10,"t":0.4,"v":-0.03},{"p":3,"k":10,"t":0.6,"v":-0.035},{"p":3,"k":10,"t":0.7,"v":-0.04},{"p":3,"k":10,"t":0.8,"v":-0.032},{"p":3,"k":10,"t":0.9,"v":-0.015},{"p":3,"k":10,"t":1.0,"v":-0.01},{"p":3,"k":10,"t":1.1,"v":-0.01},{"p":3,"k":10,"t":1.2,"v":-0.018},{"p":3,"k":10,"t":1.28,"v":-0.025}
],
"crule":[{"t":0.64,"v":-0.3,"v2":0.2}],
"ctext":[{"t":0.64,"v":0.283,"label":"Fixation offset"},{"t":0.64,"v":0.24,"label":"(“go” cue)"}],
"dpts":[
{"x":-0.145,"y":0.23},{"x":-0.135,"y":-0.09},{"x":-0.124,"y":0.23},{"x":-0.127,"y":0.16},{"x":-0.121,"y":0.05},{"x":-0.128,"y":-0.1},{"x":-0.122,"y":-0.16},{"x":-0.126,"y":-0.24},
{"x":-0.118,"y":0.25},{"x":-0.112,"y":0.2},{"x":-0.116,"y":0.14},{"x":-0.111,"y":0.07},{"x":-0.119,"y":0.01},{"x":-0.113,"y":-0.04},{"x":-0.117,"y":-0.12},{"x":-0.112,"y":-0.2},
{"x":-0.108,"y":0.27},{"x":-0.102,"y":0.22},{"x":-0.106,"y":0.18},{"x":-0.101,"y":0.13},{"x":-0.109,"y":0.09},{"x":-0.103,"y":0.04},{"x":-0.107,"y":0.0},{"x":-0.104,"y":-0.05},{"x":-0.101,"y":-0.11},{"x":-0.108,"y":-0.17},{"x":-0.103,"y":-0.22},{"x":-0.106,"y":-0.29},
{"x":-0.097,"y":0.27},{"x":-0.092,"y":0.24},{"x":-0.098,"y":0.2},{"x":-0.093,"y":0.16},{"x":-0.096,"y":0.12},{"x":-0.091,"y":0.1},{"x":-0.099,"y":0.06},{"x":-0.094,"y":0.02},{"x":-0.097,"y":-0.02},{"x":-0.092,"y":-0.07},{"x":-0.095,"y":-0.13},{"x":-0.098,"y":-0.18},{"x":-0.093,"y":-0.26},
{"x":-0.088,"y":0.26},{"x":-0.083,"y":0.23},{"x":-0.087,"y":0.19},{"x":-0.082,"y":0.15},{"x":-0.086,"y":0.13},{"x":-0.081,"y":0.08},{"x":-0.089,"y":0.05},{"x":-0.084,"y":0.0},{"x":-0.087,"y":-0.04},{"x":-0.082,"y":-0.08},{"x":-0.085,"y":-0.14},{"x":-0.088,"y":-0.19},{"x":-0.083,"y":-0.27},
{"x":-0.077,"y":0.25},{"x":-0.072,"y":0.21},{"x":-0.078,"y":0.18},{"x":-0.073,"y":0.14},{"x":-0.076,"y":0.11},{"x":-0.071,"y":0.07},{"x":-0.079,"y":0.04},{"x":-0.074,"y":0.01},{"x":-0.077,"y":-0.03},{"x":-0.072,"y":-0.06},{"x":-0.075,"y":-0.1},{"x":-0.078,"y":-0.15},{"x":-0.073,"y":-0.2},
{"x":-0.063,"y":0.3},{"x":-0.068,"y":0.24},{"x":-0.062,"y":0.2},{"x":-0.067,"y":0.17},{"x":-0.064,"y":0.12},{"x":-0.069,"y":0.09},{"x":-0.061,"y":0.05},{"x":-0.066,"y":0.02},{"x":-0.063,"y":-0.01},{"x":-0.068,"y":-0.05},{"x":-0.065,"y":-0.09},{"x":-0.062,"y":-0.14},{"x":-0.067,"y":-0.22},{"x":-0.064,"y":-0.31},
{"x":-0.057,"y":0.27},{"x":-0.052,"y":0.22},{"x":-0.058,"y":0.19},{"x":-0.053,"y":0.15},{"x":-0.056,"y":0.1},{"x":-0.051,"y":0.07},{"x":-0.059,"y":0.03},{"x":-0.054,"y":0.0},{"x":-0.057,"y":-0.04},{"x":-0.052,"y":-0.08},{"x":-0.055,"y":-0.12},{"x":-0.058,"y":-0.17},{"x":-0.053,"y":-0.25},
{"x":-0.048,"y":0.24},{"x":-0.043,"y":0.2},{"x":-0.047,"y":0.16},{"x":-0.042,"y":0.13},{"x":-0.046,"y":0.09},{"x":-0.041,"y":0.06},{"x":-0.049,"y":0.02},{"x":-0.044,"y":-0.02},{"x":-0.047,"y":-0.06},{"x":-0.042,"y":-0.1},{"x":-0.045,"y":-0.15},{"x":-0.048,"y":-0.19},{"x":-0.043,"y":-0.26},
{"x":-0.037,"y":0.26},{"x":-0.032,"y":0.21},{"x":-0.038,"y":0.17},{"x":-0.033,"y":0.12},{"x":-0.036,"y":0.08},{"x":-0.031,"y":0.04},{"x":-0.039,"y":0.01},{"x":-0.034,"y":-0.03},{"x":-0.037,"y":-0.07},{"x":-0.032,"y":-0.11},{"x":-0.035,"y":-0.16},{"x":-0.038,"y":-0.21},{"x":-0.033,"y":-0.27},
{"x":-0.023,"y":0.27},{"x":-0.028,"y":0.22},{"x":-0.022,"y":0.18},{"x":-0.027,"y":0.14},{"x":-0.024,"y":0.1},{"x":-0.029,"y":0.05},{"x":-0.021,"y":0.02},{"x":-0.026,"y":-0.02},{"x":-0.023,"y":-0.05},{"x":-0.028,"y":-0.09},{"x":-0.025,"y":-0.13},{"x":-0.022,"y":-0.18},{"x":-0.027,"y":-0.24},{"x":-0.024,"y":-0.35},
{"x":-0.017,"y":0.27},{"x":-0.012,"y":0.21},{"x":-0.018,"y":0.16},{"x":-0.013,"y":0.12},{"x":-0.016,"y":0.08},{"x":-0.011,"y":0.03},{"x":-0.019,"y":0.0},{"x":-0.014,"y":-0.04},{"x":-0.017,"y":-0.08},{"x":-0.012,"y":-0.12},{"x":-0.015,"y":-0.16},{"x":-0.018,"y":-0.2},{"x":-0.013,"y":-0.25},{"x":-0.016,"y":-0.3},
{"x":-0.007,"y":0.26},{"x":-0.002,"y":0.2},{"x":-0.008,"y":0.15},{"x":-0.003,"y":0.11},{"x":-0.006,"y":0.07},{"x":-0.001,"y":0.04},{"x":-0.009,"y":-0.01},{"x":-0.004,"y":-0.05},{"x":-0.007,"y":-0.09},{"x":-0.002,"y":-0.13},{"x":-0.005,"y":-0.17},{"x":-0.008,"y":-0.22},{"x":-0.003,"y":-0.28},
{"x":0.003,"y":0.24},{"x":0.008,"y":0.18},{"x":0.002,"y":0.13},{"x":0.007,"y":0.09},{"x":0.004,"y":0.05},{"x":0.009,"y":0.01},{"x":0.001,"y":-0.03},{"x":0.006,"y":-0.07},{"x":0.003,"y":-0.11},{"x":0.008,"y":-0.15},{"x":0.005,"y":-0.19},{"x":0.002,"y":-0.23},{"x":0.007,"y":-0.3},
{"x":0.013,"y":0.27},{"x":0.018,"y":0.19},{"x":0.012,"y":0.12},{"x":0.017,"y":0.07},{"x":0.014,"y":0.03},{"x":0.019,"y":-0.01},{"x":0.011,"y":-0.05},{"x":0.016,"y":-0.08},{"x":0.013,"y":-0.12},{"x":0.018,"y":-0.16},{"x":0.015,"y":-0.2},{"x":0.012,"y":-0.24},{"x":0.017,"y":-0.28},
{"x":0.027,"y":0.2},{"x":0.022,"y":0.14},{"x":0.028,"y":0.08},{"x":0.023,"y":0.03},{"x":0.026,"y":-0.02},{"x":0.021,"y":-0.06},{"x":0.029,"y":-0.1},{"x":0.024,"y":-0.13},{"x":0.027,"y":-0.17},{"x":0.022,"y":-0.21},{"x":0.025,"y":-0.26},{"x":0.028,"y":-0.32},{"x":0.023,"y":-0.37},
{"x":0.033,"y":0.18},{"x":0.038,"y":0.11},{"x":0.032,"y":0.05},{"x":0.037,"y":0.0},{"x":0.034,"y":-0.04},{"x":0.039,"y":-0.08},{"x":0.031,"y":-0.12},{"x":0.036,"y":-0.16},{"x":0.033,"y":-0.2},{"x":0.038,"y":-0.24},{"x":0.035,"y":-0.29},{"x":0.032,"y":-0.34},{"x":0.037,"y":-0.39},
{"x":0.047,"y":0.18},{"x":0.042,"y":0.1},{"x":0.048,"y":0.04},{"x":0.043,"y":-0.02},{"x":0.046,"y":-0.06},{"x":0.041,"y":-0.1},{"x":0.049,"y":-0.14},{"x":0.044,"y":-0.18},{"x":0.047,"y":-0.22},{"x":0.042,"y":-0.27},{"x":0.045,"y":-0.34},
{"x":0.053,"y":0.15},{"x":0.058,"y":0.07},{"x":0.052,"y":0.01},{"x":0.057,"y":-0.04},{"x":0.054,"y":-0.09},{"x":0.059,"y":-0.13},{"x":0.051,"y":-0.17},{"x":0.056,"y":-0.21},{"x":0.053,"y":-0.26},{"x":0.058,"y":-0.3},{"x":0.055,"y":-0.36},
{"x":0.067,"y":0.2},{"x":0.062,"y":0.11},{"x":0.068,"y":0.03},{"x":0.063,"y":-0.03},{"x":0.066,"y":-0.08},{"x":0.061,"y":-0.12},{"x":0.069,"y":-0.16},{"x":0.064,"y":-0.21},{"x":0.067,"y":-0.27},{"x":0.062,"y":-0.36},
{"x":0.073,"y":0.2},{"x":0.078,"y":0.08},{"x":0.072,"y":-0.01},{"x":0.077,"y":-0.07},{"x":0.074,"y":-0.12},{"x":0.079,"y":-0.18},{"x":0.071,"y":-0.24},{"x":0.076,"y":-0.3},{"x":0.073,"y":-0.39},
{"x":0.087,"y":0.1},{"x":0.082,"y":0.02},{"x":0.088,"y":-0.05},{"x":0.083,"y":-0.1},{"x":0.086,"y":-0.16},{"x":0.081,"y":-0.22},{"x":0.089,"y":-0.3},
{"x":0.097,"y":0.22},{"x":0.092,"y":0.04},{"x":0.098,"y":-0.06},{"x":0.093,"y":-0.14},{"x":0.096,"y":-0.26},{"x":0.099,"y":-0.4},{"x":0.104,"y":-0.44},
{"x":0.105,"y":0.05},{"x":0.11,"y":-0.1},{"x":0.115,"y":-0.2},{"x":0.12,"y":0.14},{"x":0.125,"y":-0.05},{"x":0.13,"y":0.0},{"x":0.135,"y":-0.15},{"x":0.14,"y":-0.02},{"x":0.145,"y":-0.24},{"x":0.15,"y":-0.26},{"x":0.155,"y":0.08},{"x":0.16,"y":-0.13},{"x":0.165,"y":-0.08},{"x":0.17,"y":-0.33},{"x":0.175,"y":0.05},{"x":0.18,"y":-0.35},{"x":0.185,"y":-0.12},{"x":0.19,"y":-0.05},{"x":0.2,"y":-0.09},{"x":0.205,"y":0.13},{"x":0.21,"y":0.05},{"x":0.215,"y":-0.03},{"x":0.22,"y":-0.17},{"x":0.22,"y":-0.32},{"x":0.235,"y":-0.14},{"x":0.24,"y":-0.2},{"x":0.255,"y":-0.28},{"x":0.27,"y":-0.19},{"x":0.28,"y":0.2},{"x":0.345,"y":0.2},{"x":0.06,"y":-0.545},{"x":0.11,"y":0.17},{"x":0.125,"y":-0.11},{"x":0.16,"y":0.02},{"x":0.2,"y":-0.2},{"x":0.18,"y":-0.1},{"x":0.14,"y":-0.23},{"x":0.13,"y":-0.3},
{"x":-0.1,"y":0.25},{"x":-0.1,"y":0.15},{"x":-0.1,"y":0.07},{"x":-0.1,"y":-0.03},{"x":-0.1,"y":-0.14},
{"x":-0.09,"y":0.22},{"x":-0.09,"y":0.14},{"x":-0.09,"y":0.04},{"x":-0.09,"y":-0.05},{"x":-0.09,"y":-0.16},
{"x":-0.08,"y":0.24},{"x":-0.08,"y":0.17},{"x":-0.08,"y":0.1},{"x":-0.08,"y":0.03},{"x":-0.08,"y":-0.06},{"x":-0.08,"y":-0.17},
{"x":-0.07,"y":0.23},{"x":-0.07,"y":0.16},{"x":-0.07,"y":0.09},{"x":-0.07,"y":0.0},{"x":-0.07,"y":-0.12},
{"x":-0.06,"y":0.26},{"x":-0.06,"y":0.18},{"x":-0.06,"y":0.11},{"x":-0.06,"y":0.04},{"x":-0.06,"y":-0.03},{"x":-0.06,"y":-0.19},
{"x":-0.05,"y":0.25},{"x":-0.05,"y":0.17},{"x":-0.05,"y":0.12},{"x":-0.05,"y":0.05},{"x":-0.05,"y":-0.06},{"x":-0.05,"y":-0.14},
{"x":-0.04,"y":0.22},{"x":-0.04,"y":0.15},{"x":-0.04,"y":0.07},{"x":-0.04,"y":0.0},{"x":-0.04,"y":-0.12},{"x":-0.04,"y":-0.22},
{"x":-0.03,"y":0.24},{"x":-0.03,"y":0.15},{"x":-0.03,"y":0.06},{"x":-0.03,"y":-0.05},{"x":-0.03,"y":-0.14},{"x":-0.03,"y":-0.23},
{"x":-0.02,"y":0.2},{"x":-0.02,"y":0.12},{"x":-0.02,"y":0.04},{"x":-0.02,"y":-0.07},{"x":-0.02,"y":-0.16},{"x":-0.02,"y":-0.27},
{"x":-0.01,"y":0.23},{"x":-0.01,"y":0.14},{"x":-0.01,"y":0.06},{"x":-0.01,"y":-0.02},{"x":-0.01,"y":-0.11},{"x":-0.01,"y":-0.2},
{"x":0.0,"y":0.22},{"x":0.0,"y":0.13},{"x":0.0,"y":0.03},{"x":0.0,"y":-0.06},{"x":0.0,"y":-0.15},{"x":0.0,"y":-0.25},
{"x":0.01,"y":0.21},{"x":0.01,"y":0.1},{"x":0.01,"y":0.02},{"x":0.01,"y":-0.1},{"x":0.01,"y":-0.18},{"x":0.01,"y":-0.26},
{"x":0.02,"y":0.17},{"x":0.02,"y":0.06},{"x":0.02,"y":-0.04},{"x":0.02,"y":-0.11},{"x":0.02,"y":-0.19},{"x":0.02,"y":-0.29},
{"x":0.03,"y":0.13},{"x":0.03,"y":0.02},{"x":0.03,"y":-0.06},{"x":0.03,"y":-0.14},{"x":0.03,"y":-0.22},{"x":0.03,"y":-0.31},
{"x":0.04,"y":0.08},{"x":0.04,"y":-0.04},{"x":0.04,"y":-0.12},{"x":0.04,"y":-0.2},{"x":0.04,"y":-0.25},
{"x":0.05,"y":0.04},{"x":0.05,"y":-0.07},{"x":0.05,"y":-0.15},{"x":0.05,"y":-0.23},{"x":0.05,"y":-0.32},
{"x":0.06,"y":0.09},{"x":0.06,"y":-0.01},{"x":0.06,"y":-0.1},{"x":0.06,"y":-0.19},{"x":0.06,"y":-0.28},
{"x":0.07,"y":0.05},{"x":0.07,"y":-0.04},{"x":0.07,"y":-0.14},{"x":0.07,"y":-0.22},
{"x":0.08,"y":-0.02},{"x":0.08,"y":-0.13},{"x":0.08,"y":-0.26},
{"x":-0.11,"y":0.17},{"x":-0.11,"y":-0.07},{"x":-0.12,"y":0.1},{"x":-0.12,"y":-0.03}
],
"dline":[{"x":-0.15,"y":0.112},{"x":0.35,"y":-0.2}],
"dtext":[{"x":0.105,"y":0.35,"label":"r = -0.366 p<0.001 (R² = 0.134)"}],
"e":[
{"dim":"1","t":-0.6,"r":0.0222,"lo":0.0174,"hi":0.0266},{"dim":"1","t":-0.5,"r":0.0212,"lo":0.017,"hi":0.0255},{"dim":"1","t":-0.4,"r":0.022,"lo":0.0175,"hi":0.0262},{"dim":"1","t":-0.3,"r":0.0283,"lo":0.0235,"hi":0.0342},{"dim":"1","t":-0.2,"r":0.039,"lo":0.032,"hi":0.0464},{"dim":"1","t":-0.098,"r":0.0658,"lo":0.0551,"hi":0.0763},{"dim":"1","t":0,"r":0.0821,"lo":0.0691,"hi":0.0959},
{"dim":"2","t":-0.61,"r":0.0137,"lo":0.0108,"hi":0.0159},{"dim":"2","t":-0.51,"r":0.0157,"lo":0.013,"hi":0.0185},{"dim":"2","t":-0.41,"r":0.0196,"lo":0.0152,"hi":0.0235},{"dim":"2","t":-0.31,"r":0.0222,"lo":0.0174,"hi":0.0283},{"dim":"2","t":-0.21,"r":0.0246,"lo":0.0192,"hi":0.0294},{"dim":"2","t":-0.11,"r":0.0322,"lo":0.0257,"hi":0.0381},{"dim":"2","t":-0.011,"r":0.0392,"lo":0.0329,"hi":0.0458},
{"dim":"3","t":-0.59,"r":0.012,"lo":0.0103,"hi":0.014},{"dim":"3","t":-0.49,"r":0.0128,"lo":0.0105,"hi":0.0152},{"dim":"3","t":-0.39,"r":0.0134,"lo":0.0112,"hi":0.0157},{"dim":"3","t":-0.29,"r":0.0146,"lo":0.0123,"hi":0.017},{"dim":"3","t":-0.19,"r":0.018,"lo":0.0152,"hi":0.0211},{"dim":"3","t":-0.09,"r":0.0218,"lo":0.0178,"hi":0.0255},{"dim":"3","t":0.011,"r":0.0298,"lo":0.0246,"hi":0.0355},
{"dim":"4-22","t":-0.6,"r":0.0055},{"dim":"4-22","t":-0.5,"r":0.0057},{"dim":"4-22","t":-0.4,"r":0.006},{"dim":"4-22","t":-0.3,"r":0.0065},{"dim":"4-22","t":-0.2,"r":0.0075},{"dim":"4-22","t":-0.1,"r":0.0092},{"dim":"4-22","t":0,"r":0.0108}
],
"ebar":[{"dim":"1","t1":-0.6,"t2":0,"yb":0.1092},{"dim":"2","t1":-0.6,"t2":0,"yb":0.1052},{"dim":"3","t1":-0.4,"t2":0,"yb":0.1007}]
},
"resolve":{"scale":{"color":"independent","stroke":"independent","fill":"independent","shape":"independent","strokeWidth":"independent","strokeDash":"independent"},"legend":{"color":"independent","stroke":"independent","fill":"independent","shape":"independent","strokeWidth":"independent","strokeDash":"independent"}},
"spacing":8,
"vconcat":[
{"spacing":3,
 "resolve":{"scale":{"color":"independent","stroke":"independent","fill":"independent","shape":"independent","strokeWidth":"independent","strokeDash":"independent"},"legend":{"color":"independent","stroke":"independent","fill":"independent","shape":"independent","strokeWidth":"independent","strokeDash":"independent"}},
 "vconcat":[
 {"spacing":13,
  "resolve":{"scale":{"color":"independent","stroke":"independent","fill":"independent","shape":"independent"},"legend":{"color":"independent","stroke":"independent","fill":"independent","shape":"independent"}},
  "hconcat":[
  {"title":"A","spacing":10,
   "resolve":{"scale":{"color":"independent"},"legend":{"color":"independent"}},
   "hconcat":[
   {"width":217,"height":155,"data":{"name":"a1"},
    "encoding":{
     "x":{"field":"t","type":"quantitative","scale":{"domain":[-0.2,0.8],"nice":false,"zero":false},"axis":{"values":[-0.2,0,0.2,0.4,0.6,0.8],"format":"~g","title":"Time from target onset (s)"}},
     "y":{"field":"r","type":"quantitative","scale":{"domain":[0,16],"nice":false},"axis":{"values":[0,5,10,15],"title":"Firing rate (sp/s)","titlePadding":12}},
     "color":{"field":"g","type":"nominal","scale":{"domain":["slow","fast"],"range":["#b5195e","#1f7a3a"]},"legend":{"orient":"none","legendX":6,"legendY":107,"title":null,"labelExpr":"datum.label == 'slow' ? '30 slowest trials' : '30 fastest trials'","symbolType":"stroke","symbolStrokeWidth":2,"symbolSize":220,"symbolOpacity":1,"strokeColor":"#444","fillColor":"white","padding":4,"labelFontSize":10,"rowPadding":2}}
    },
    "layer":[
     {"mark":{"type":"line","strokeWidth":7,"opacity":0.25,"strokeJoin":"round"}},
     {"mark":{"type":"line","strokeWidth":1.3}}
    ]},
   {"width":86,"height":155,"data":{"name":"a2"},
    "encoding":{
     "x":{"field":"t","type":"quantitative","scale":{"domain":[-0.2,0.2],"nice":false,"zero":false},"axis":{"values":[-0.2,-0.1,0,0.1,0.2],"format":"~g","labelExpr":"abs(datum.value) > 0.05 && abs(datum.value) < 0.15 ? '' : datum.label","title":"Time from saccade (s)"}},
     "y":{"field":"r","type":"quantitative","scale":{"domain":[0,16],"nice":false},"axis":{"values":[0,5,10,15],"title":null}},
     "color":{"field":"g","type":"nominal","scale":{"domain":["slow","fast"],"range":["#b5195e","#1f7a3a"]},"legend":null}
    },
    "layer":[
     {"mark":{"type":"line","strokeWidth":7,"opacity":0.25,"strokeJoin":"round"}},
     {"mark":{"type":"line","strokeWidth":1.3}}
    ]}
   ]},
  {"width":218,"height":154,"title":{"text":"B","dx":-10,"dy":6},
   "encoding":{
    "x":{"field":"x","type":"quantitative","scale":{"domain":[-0.6,0.4],"nice":false,"zero":false},"axis":{"values":[-0.6,-0.4,-0.2,0,0.2,0.4],"format":"~g","title":"1ˢᵗ GPFA projection"}},
    "y":{"field":"y","type":"quantitative","scale":{"domain":[-0.3,0.3],"nice":false,"zero":false},"axis":{"values":[-0.3,-0.2,-0.1,0,0.1,0.2,0.3],"format":"~g","title":"2ⁿᵈ GPFA projection","titlePadding":5}}
   },
   "layer":[
    {"data":{"name":"bell"},"transform":[{"filter":"datum.sub == 'slow'"}],"mark":{"type":"point","shape":"M-1,0A1,0.5,0,1,1,1,0A1,0.5,0,1,1,-1,0Z","size":2304,"angle":25,"filled":true,"fill":"#c9c9c9","stroke":"#6e6e6e","strokeWidth":1,"opacity":1}},
    {"data":{"name":"bell"},"transform":[{"filter":"datum.sub == 'fast'"}],"mark":{"type":"point","shape":"M-1,0A1,0.6,0,1,1,1,0A1,0.6,0,1,1,-1,0Z","size":2116,"angle":-65,"filled":true,"fill":"#c9c9c9","stroke":"#6e6e6e","strokeWidth":1,"opacity":1}},
    {"data":{"name":"btraj"},"mark":{"type":"line","strokeWidth":1.2,"point":{"filled":false,"size":4,"strokeWidth":1.5}},
     "encoding":{"detail":{"field":"tr"},"order":{"field":"i","type":"quantitative"},
      "stroke":{"field":"key","type":"nominal","scale":{"domain":["Fixation","Targ on","Sacc","3 slow trials","3 fast trials"],"range":["#000000","#000000","#000000","#b5195e","#1f7a3a"]},"legend":{"orient":"none","legendX":4,"legendY":107,"title":null,"columns":3,"direction":"horizontal","gridAlign":"none","symbolSize":60,"symbolStrokeWidth":1.3,"labelFontSize":8.5,"strokeColor":"#555","fillColor":"white","padding":3,"columnPadding":2,"rowPadding":3,"labelOffset":1}}}},
    {"data":{"name":"bmark"},"mark":{"type":"point","size":95,"strokeWidth":1.3,"opacity":1,"fillOpacity":1},
     "encoding":{
      "stroke":{"field":"key","type":"nominal","scale":{"domain":["Fixation","Targ on","Sacc","3 slow trials","3 fast trials"],"range":["#000000","#000000","#000000","#b5195e","#1f7a3a"]},"legend":{"orient":"none","legendX":4,"legendY":107,"title":null,"columns":3,"direction":"horizontal","gridAlign":"none","symbolSize":60,"symbolStrokeWidth":1.3,"labelFontSize":8.5,"strokeColor":"#555","fillColor":"white","padding":3,"columnPadding":2,"rowPadding":3,"labelOffset":1}},
      "fill":{"field":"key","type":"nominal","scale":{"domain":["Fixation","Targ on","Sacc","3 slow trials","3 fast trials"],"range":["#ffffff","#ffffff","#000000","transparent","transparent"]},"legend":{"orient":"none","legendX":4,"legendY":107,"title":null,"columns":3,"direction":"horizontal","gridAlign":"none","symbolSize":60,"symbolStrokeWidth":1.3,"labelFontSize":8.5,"strokeColor":"#555","fillColor":"white","padding":3,"columnPadding":2,"rowPadding":3,"labelOffset":1}},
      "shape":{"field":"key","type":"nominal","scale":{"domain":["Fixation","Targ on","Sacc","3 slow trials","3 fast trials"],"range":["circle","triangle-up","circle","stroke","stroke"]},"legend":{"orient":"none","legendX":4,"legendY":107,"title":null,"columns":3,"direction":"horizontal","gridAlign":"none","symbolSize":60,"symbolStrokeWidth":1.3,"labelFontSize":8.5,"strokeColor":"#555","fillColor":"white","padding":3,"columnPadding":2,"rowPadding":3,"labelOffset":1}}
     }},
    {"data":{"name":"btext"},"mark":{"type":"text","fontSize":10,"lineBreak":"\n","color":"#222","align":"center","baseline":"middle"},"encoding":{"text":{"field":"label"}}}
   ]}
  ]},
 {"title":{"text":"C","dy":10},"spacing":23,
  "resolve":{"scale":{"color":"independent"},"legend":{"color":"independent"}},
  "hconcat":[
  {"width":179,"height":125,"title":{"text":"Dimension 1","fontSize":12,"fontWeight":"normal","anchor":"middle","frame":"group","offset":6},
   "encoding":{
    "x":{"field":"t","type":"quantitative","scale":{"domain":[-0.22,1.3],"nice":false,"zero":false},"axis":{"values":[-0.2,0,0.2,0.4,0.6,0.8,1,1.2],"format":"~g","title":null}},
    "y":{"field":"v","type":"quantitative","scale":{"domain":[-0.3,0.3],"nice":false},"axis":{"values":[-0.2,-0.1,0,0.1,0.2],"format":"~g","labelExpr":"abs(datum.value) > 0.05 && abs(datum.value) < 0.15 ? '' : datum.label","title":"GPFA Projection value","titlePadding":1}}
   },
   "layer":[
    {"data":{"name":"c"},"transform":[{"filter":"datum.p == 1"}],"mark":{"type":"line","strokeWidth":3.5,"interpolate":"monotone"},"encoding":{"color":{"field":"k","type":"ordinal","scale":{"domain":[1,2,3,4,5,6,7,8,9,10],"range":["#1a7335","#2f9b40","#66bb48","#a8d68b","#cfe8bd","#fbd3e5","#f5b0d0","#ec7db3","#d9368c","#b3185f"]},"legend":null}}},
    {"data":{"name":"crule"},"mark":{"type":"rule","strokeDash":[5,3],"strokeWidth":2,"color":"#000"},"encoding":{"y2":{"field":"v2"}}},
    {"data":{"name":"ctext"},"mark":{"type":"text","fontSize":9,"color":"#222","baseline":"middle"},"encoding":{"text":{"field":"label"}}}
   ]},
  {"width":180,"height":125,"title":{"text":"Dimension 2","fontSize":12,"fontWeight":"normal","anchor":"middle","frame":"group","offset":6},
   "encoding":{
    "x":{"field":"t","type":"quantitative","scale":{"domain":[-0.22,1.3],"nice":false,"zero":false},"axis":{"values":[-0.2,0,0.2,0.4,0.6,0.8,1,1.2],"format":"~g","title":"Time from target onset (s)"}},
    "y":{"field":"v","type":"quantitative","scale":{"domain":[-0.3,0.3],"nice":false},"axis":{"values":[-0.2,-0.1,0,0.1,0.2],"format":"~g","labelExpr":"abs(datum.value) > 0.05 && abs(datum.value) < 0.15 ? '' : datum.label","title":null}}
   },
   "layer":[
    {"data":{"name":"c"},"transform":[{"filter":"datum.p == 2 && datum.t > 5"}],"mark":{"type":"square","size":80,"opacity":1},"encoding":{"color":{"field":"k","type":"ordinal","scale":{"domain":[1,2,3,4,5,6,7,8,9,10],"range":["#1a7335","#2f9b40","#66bb48","#a8d68b","#cfe8bd","#fbd3e5","#f5b0d0","#ec7db3","#d9368c","#b3185f"]},"legend":{"orient":"none","legendX":46,"legendY":-6,"title":"RT decile","titleFontSize":9,"titleFontWeight":"normal","titleAnchor":"middle","titlePadding":2,"columns":10,"direction":"horizontal","gridAlign":"none","columnPadding":1,"rowPadding":0,"symbolType":"square","symbolSize":81,"symbolStrokeWidth":0,"symbolOpacity":1,"labelExpr":"datum.label == '1' || datum.label == '10' ? datum.label : ''","labelFontSize":8,"labelColor":"white","labelOffset":-8,"strokeColor":"#444","fillColor":"white","padding":3}}}},
    {"data":{"name":"c"},"transform":[{"filter":"datum.p == 2"}],"mark":{"type":"line","strokeWidth":3.5,"interpolate":"monotone"},"encoding":{"color":{"field":"k","type":"ordinal","scale":{"domain":[1,2,3,4,5,6,7,8,9,10],"range":["#1a7335","#2f9b40","#66bb48","#a8d68b","#cfe8bd","#fbd3e5","#f5b0d0","#ec7db3","#d9368c","#b3185f"]},"legend":{"orient":"none","legendX":46,"legendY":-6,"title":"RT decile","titleFontSize":9,"titleFontWeight":"normal","titleAnchor":"middle","titlePadding":2,"columns":10,"direction":"horizontal","gridAlign":"none","columnPadding":1,"rowPadding":0,"symbolType":"square","symbolSize":81,"symbolStrokeWidth":0,"symbolOpacity":1,"labelExpr":"datum.label == '1' || datum.label == '10' ? datum.label : ''","labelFontSize":8,"labelColor":"white","labelOffset":-8,"strokeColor":"#444","fillColor":"white","padding":3}}}},
    {"data":{"name":"crule"},"mark":{"type":"rule","strokeDash":[5,3],"strokeWidth":2,"color":"#000"},"encoding":{"y2":{"field":"v2"}}}
   ]},
  {"width":180,"height":125,"title":{"text":"Dimension 3","fontSize":12,"fontWeight":"normal","anchor":"middle","frame":"group","offset":6},
   "encoding":{
    "x":{"field":"t","type":"quantitative","scale":{"domain":[-0.22,1.3],"nice":false,"zero":false},"axis":{"values":[-0.2,0,0.2,0.4,0.6,0.8,1,1.2],"format":"~g","title":null}},
    "y":{"field":"v","type":"quantitative","scale":{"domain":[-0.3,0.3],"nice":false},"axis":{"values":[-0.2,-0.1,0,0.1,0.2],"format":"~g","labelExpr":"abs(datum.value) > 0.05 && abs(datum.value) < 0.15 ? '' : datum.label","title":null}}
   },
   "layer":[
    {"data":{"name":"c"},"transform":[{"filter":"datum.p == 3"}],"mark":{"type":"line","strokeWidth":3.5,"interpolate":"monotone"},"encoding":{"color":{"field":"k","type":"ordinal","scale":{"domain":[1,2,3,4,5,6,7,8,9,10],"range":["#1a7335","#2f9b40","#66bb48","#a8d68b","#cfe8bd","#fbd3e5","#f5b0d0","#ec7db3","#d9368c","#b3185f"]},"legend":null}}},
    {"data":{"name":"crule"},"mark":{"type":"rule","strokeDash":[5,3],"strokeWidth":2,"color":"#000"},"encoding":{"y2":{"field":"v2"}}}
   ]}
  ]}
 ]},
{"spacing":11,
 "resolve":{"scale":{"color":"independent","strokeWidth":"independent","strokeDash":"independent"},"legend":{"color":"independent","strokeWidth":"independent","strokeDash":"independent"}},
 "hconcat":[
 {"width":197,"height":153,"title":"D",
  "encoding":{
   "x":{"field":"x","type":"quantitative","scale":{"domain":[-0.15,0.35],"nice":false,"zero":false},"axis":{"values":[-0.1,0,0.1,0.2,0.3],"format":"~g","title":"Mean subtracted reaction time (s)"}},
   "y":{"field":"y","type":"quantitative","scale":{"domain":[-0.6,0.4],"nice":false,"zero":false},"axis":{"values":[-0.4,0,0.4],"format":"~g","title":"1ˢᵗ GPFA projection","titlePadding":5}}
  },
  "layer":[
   {"data":{"name":"dpts"},"mark":{"type":"circle","size":10,"color":"#000","opacity":1}},
   {"data":{"name":"dline"},"mark":{"type":"line","color":"#000","strokeWidth":1}},
   {"data":{"name":"dtext"},"mark":{"type":"text","fontSize":9.5,"color":"#222"},"encoding":{"text":{"field":"label"}}}
  ]},
 {"width":379,"height":153,"title":{"text":"E","dx":9,"dy":11},
  "layer":[
   {"data":{"name":"ebar"},"mark":{"type":"rule","strokeWidth":3},
    "encoding":{
     "x":{"field":"t1","type":"quantitative","scale":{"domain":[-0.64,0.012],"nice":false,"zero":false},"axis":{"values":[-0.6,-0.5,-0.4,-0.3,-0.2,-0.1,0],"format":"~g","title":"Time from saccade (s)"}},
     "x2":{"field":"t2"},
     "y":{"field":"yb","type":"quantitative","scale":{"domain":[0,0.1],"nice":false,"zero":false},"axis":{"values":[0,0.02,0.04,0.06,0.08,0.1],"format":"~g","title":["R² (predicting RT from","GPFA projection)"],"titlePadding":6}},
     "color":{"field":"dim","type":"ordinal","scale":{"domain":["1","2","3","4-22"],"range":["#111111","#585f3d","#b3b3b3","#c4c4c4"]},"legend":{"orient":"none","legendX":19,"legendY":16,"title":"Dimension","titleFontSize":9,"titleFontWeight":"normal","labelFontSize":9,"symbolType":"stroke","symbolSize":260,"strokeColor":"#444","fillColor":"white","padding":4,"rowPadding":2,"titlePadding":3}}
    }},
   {"data":{"name":"e"},"mark":{"type":"line"},
    "encoding":{
     "x":{"field":"t","type":"quantitative","axis":{"values":[-0.6,-0.5,-0.4,-0.3,-0.2,-0.1,0],"format":"~g","title":"Time from saccade (s)"}},
     "y":{"field":"r","type":"quantitative","axis":{"values":[0,0.02,0.04,0.06,0.08,0.1],"format":"~g","title":["R² (predicting RT from","GPFA projection)"],"titlePadding":6}},
     "color":{"field":"dim","type":"ordinal","scale":{"domain":["1","2","3","4-22"],"range":["#111111","#585f3d","#b3b3b3","#c4c4c4"]},"legend":{"orient":"none","legendX":19,"legendY":16,"title":"Dimension","titleFontSize":9,"titleFontWeight":"normal","labelFontSize":9,"symbolType":"stroke","symbolSize":260,"strokeColor":"#444","fillColor":"white","padding":4,"rowPadding":2,"titlePadding":3}},
     "strokeWidth":{"field":"dim","type":"ordinal","scale":{"domain":["1","2","3","4-22"],"range":[1,2.8,4,1.3]},"legend":{"orient":"none","legendX":19,"legendY":16,"title":"Dimension","titleFontSize":9,"titleFontWeight":"normal","labelFontSize":9,"symbolType":"stroke","symbolSize":260,"strokeColor":"#444","fillColor":"white","padding":4,"rowPadding":2,"titlePadding":3}},
     "strokeDash":{"field":"dim","type":"ordinal","scale":{"domain":["1","2","3","4-22"],"range":[[1,0],[1,0],[1,0],[4,3]]},"legend":{"orient":"none","legendX":19,"legendY":16,"title":"Dimension","titleFontSize":9,"titleFontWeight":"normal","labelFontSize":9,"symbolType":"stroke","symbolSize":260,"strokeColor":"#444","fillColor":"white","padding":4,"rowPadding":2,"titlePadding":3}}
    }},
   {"data":{"name":"e"},"transform":[{"filter":"isValid(datum.lo)"}],"mark":{"type":"errorbar","ticks":{"size":9},"thickness":1.3},
    "encoding":{
     "x":{"field":"t","type":"quantitative","axis":{"values":[-0.6,-0.5,-0.4,-0.3,-0.2,-0.1,0],"format":"~g","title":"Time from saccade (s)"}},
     "y":{"field":"lo","type":"quantitative","axis":{"values":[0,0.02,0.04,0.06,0.08,0.1],"format":"~g","title":["R² (predicting RT from","GPFA projection)"],"titlePadding":6}},
     "y2":{"field":"hi"},
     "color":{"field":"dim","type":"ordinal","scale":{"domain":["1","2","3","4-22"],"range":["#111111","#585f3d","#b3b3b3","#c4c4c4"]},"legend":{"orient":"none","legendX":19,"legendY":16,"title":"Dimension","titleFontSize":9,"titleFontWeight":"normal","labelFontSize":9,"symbolType":"stroke","symbolSize":260,"strokeColor":"#444","fillColor":"white","padding":4,"rowPadding":2,"titlePadding":3}}
    }}
  ]}
 ]}
]
}
